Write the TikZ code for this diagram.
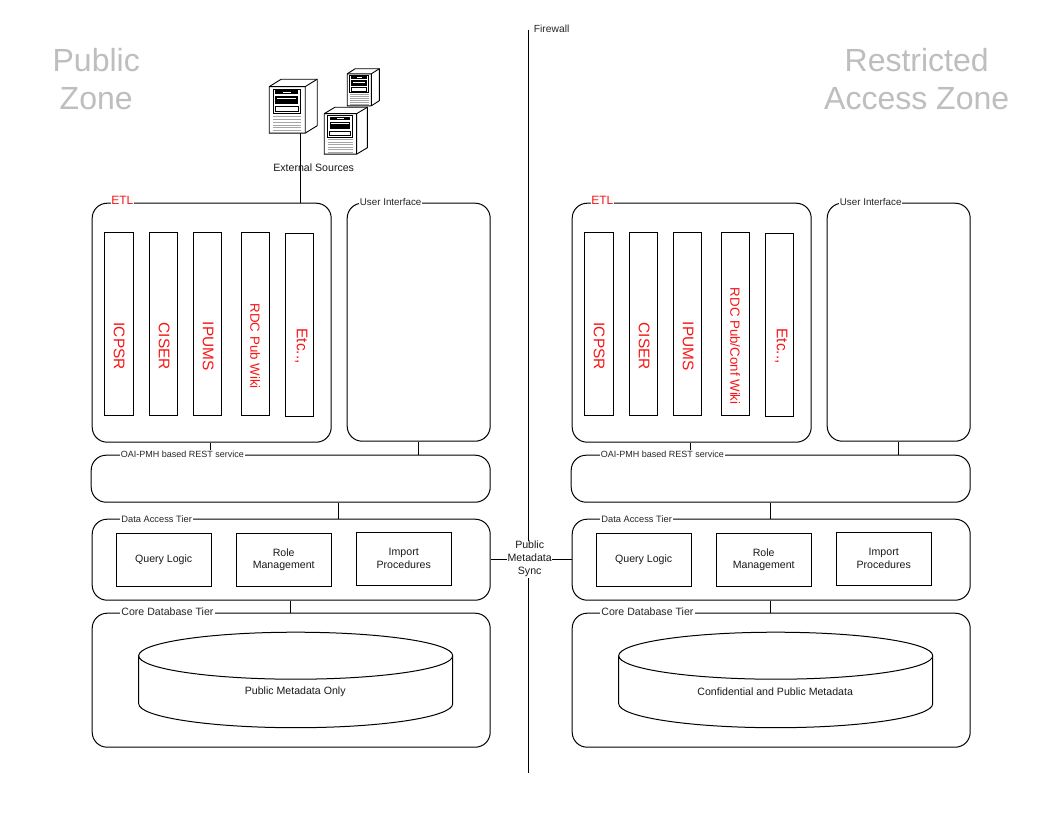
\documentclass[tikz,border=0pt]{standalone}
\usepackage{fontspec}
\setmainfont{Liberation Sans}
\definecolor{zonegray}{RGB}{190,190,190}
\definecolor{etlred}{RGB}{250,20,20}
\tikzset{
  x=1pt,y=-1pt,
  tier/.style={draw=black,line width=1pt,rounded corners=15pt,fill=white},
  col/.style={draw=black,line width=1pt,fill=white},
  lnk/.style={draw=black,line width=1pt},
  boxlab/.style={inner sep=1pt,fill=white,font=\fontsize{9}{10}\selectfont,text=black!85},
  etllab/.style={inner sep=0.5pt,fill=white,font=\fontsize{12}{13}\selectfont,text=etlred},
  inner/.style={font=\fontsize{10.6}{12.8}\selectfont,align=center,text=black!90},
  colbig/.style={rotate=-90,font=\fontsize{15.4}{17}\selectfont,text=etlred},
  colsmall/.style={rotate=-90,font=\fontsize{13.3}{15}\selectfont,text=etlred},
  zone/.style={font=\fontsize{32}{38}\selectfont,text=zonegray,align=center}
}
\newcommand{\tierbox}[5]{\node[tier,minimum width=#4pt-#2pt,minimum height=#5pt-#3pt,anchor=north west,inner sep=0pt] (#1) at (#2,#3) {};}
\newcommand{\colbox}[5]{\node[col,minimum width=#4pt-#2pt,minimum height=#5pt-#3pt,anchor=north west,inner sep=0pt] (#1) at (#2,#3) {};}
\newcommand{\srv}[4]{%
 \begin{scope}[shift={(#1,#2)},xscale=#3,yscale=#4]
  \draw[line width=0.9pt,fill=white] (0,8) -- (12,0) -- (48,0) -- (48,50) -- (36,58) -- (0,58) -- cycle;
  \draw[line width=0.9pt] (0,8) -- (36,8) -- (48,0) (36,8) -- (36,58);
  \draw[line width=0.8pt,fill=white] (4,10.5) rectangle (31,37);
  \fill (6,12) rectangle (29,16);
  \fill[white] (14,13.5) rectangle (22,14.5);
  \fill (6,18) rectangle (29,27);
  \fill[white] (8,20) rectangle (27,21);
  \draw[line width=0.6pt] (6,29.5) rectangle (29,35);
  \foreach \yy in {40,43,46,49,52,55}{\draw[line width=0.3pt,black!35] (4,\yy) -- (32,\yy);}
 \end{scope}}
\begin{document}
\begin{tikzpicture}
\useasboundingbox (0.3,0.3) rectangle (1056.3,816.3);
\fill[white] (0.3,0.3) rectangle (1056.3,816.3);
% firewall
\coordinate (fwtop) at (529,30);
\coordinate (fwbot) at (529,773);
\draw[lnk] (fwtop) -- (fwbot);
\node[anchor=west,inner sep=0pt,font=\fontsize{10.3}{12}\selectfont,text=black!85] (fwlab) at (534,29.5) {Firewall};
% zones
\node[zone] (pubzone) at (96.5,79.5) {Public\\Zone};
\node[zone] (reszone) at (917,79.5) {Restricted\\Access Zone};
% servers
\srv{269.5}{79.5}{1.0}{0.93}
\srv{347.5}{69}{0.67}{0.64}
\srv{324.5}{107.5}{0.9}{0.81}
\coordinate (srvbase) at (301,133);
% tiers
\tierbox{etlL}{92}{203}{331}{442}
\tierbox{uiL}{347}{203}{490}{441}
\tierbox{oaiL}{91}{455}{490}{502}
\tierbox{dataL}{92}{519}{490}{600}
\tierbox{coreL}{92}{613}{490}{747}
\tierbox{etlR}{572}{203}{811}{442}
\tierbox{uiR}{827}{203}{970}{441}
\tierbox{oaiR}{571}{455}{970}{502}
\tierbox{dataR}{572}{519}{970}{600}
\tierbox{coreR}{572}{613}{970}{747}
% connectors
\coordinate (l1) at (301,203);
\draw[lnk] (srvbase) -- (l1);
\node[inner sep=0pt,font=\fontsize{10.6}{12}\selectfont,text=black!90] (ext) at (314,168.5) {External Sources};
\draw[lnk] (etlL.south -| 211,0) -- (oaiL.north -| 211,0);
\draw[lnk] (uiL.south -| 419,0) -- (oaiL.north -| 419,0);
\draw[lnk] (oaiL.south -| 339,0) -- (dataL.north -| 339,0);
\draw[lnk] (dataL.south -| 291,0) -- (coreL.north -| 291,0);
\draw[lnk] (etlR.south -| 691,0) -- (oaiR.north -| 691,0);
\draw[lnk] (uiR.south -| 899,0) -- (oaiR.north -| 899,0);
\draw[lnk] (oaiR.south -| 771,0) -- (dataR.north -| 771,0);
\draw[lnk] (dataR.south -| 771,0) -- (coreR.north -| 771,0);
\draw[lnk] (dataL.east |- 0,560) -- (dataR.west |- 0,560);
\node[inner sep=0.5pt,fill=white,align=center,font=\fontsize{10.6}{13}\selectfont,text=black!90] (sync) at (530,559.5) {Public\\Metadata\\Sync};
% box labels
\node[etllab,anchor=west] (etlLlab) at (111,201) {ETL};
\node[boxlab,anchor=west,font=\fontsize{9.8}{11}\selectfont] at (359,202) {User Interface};
\node[boxlab,anchor=west] at (120,454.5) {OAI-PMH based REST service};
\node[boxlab,anchor=west,font=\fontsize{9.3}{11}\selectfont] at (120.5,519) {Data Access Tier};
\node[boxlab,anchor=west,font=\fontsize{10.6}{12}\selectfont] at (120.5,612.5) {Core Database Tier};
\node[etllab,anchor=west] (etlRlab) at (591,201) {ETL};
\node[boxlab,anchor=west,font=\fontsize{9.8}{11}\selectfont] at (839,202) {User Interface};
\node[boxlab,anchor=west] at (600,454.5) {OAI-PMH based REST service};
\node[boxlab,anchor=west,font=\fontsize{9.3}{11}\selectfont] at (600.5,519) {Data Access Tier};
\node[boxlab,anchor=west,font=\fontsize{10.6}{12}\selectfont] at (600.5,612.5) {Core Database Tier};
% columns left
\colbox{a1}{104}{232}{133}{415}
\colbox{a2}{149}{232}{177}{415}
\colbox{a3}{193}{232}{221}{415}
\colbox{a4}{241}{232}{269}{415}
\colbox{a5}{285}{233}{313}{416}
\node[colbig] at (119.5,346.5) {ICPSR};
\node[colbig] at (164.5,346.5) {CISER};
\node[colbig] at (208.5,346.5) {IPUMS};
\node[colsmall] at (255.5,346.5) {RDC Pub Wiki};
\node[colbig] at (301.5,346.5) {Etc..,};
% columns right
\colbox{b1}{584}{232}{613}{415}
\colbox{b2}{629}{232}{657}{415}
\colbox{b3}{673}{232}{701}{415}
\colbox{b4}{721}{232}{749}{415}
\colbox{b5}{765}{233}{793}{416}
\node[colbig] at (599.5,346.5) {ICPSR};
\node[colbig] at (644.5,346.5) {CISER};
\node[colbig] at (688.5,346.5) {IPUMS};
\node[colsmall] at (735.5,346.5) {RDC Pub/Conf Wiki};
\node[colbig] at (781.5,346.5) {Etc..,};
% data boxes
\colbox{q1}{116}{533}{211}{586}
\colbox{q2}{236}{533}{331}{586}
\colbox{q3}{356}{532}{451}{585}
\node[inner] at (q1) {Query Logic};
\node[inner] at (q2) {Role\\Management};
\node[inner] at (q3) {Import\\Procedures};
\colbox{r1}{596}{533}{691}{586}
\colbox{r2}{716}{533}{811}{586}
\colbox{r3}{836}{532}{931}{585}
\node[inner] at (r1) {Query Logic};
\node[inner] at (r2) {Role\\Management};
\node[inner] at (r3) {Import\\Procedures};
% cylinders
\draw[lnk,fill=white] (139,656) -- (139,704) arc[start angle=180,end angle=360,x radius=157,y radius=-24] -- (453,656);
\draw[lnk,fill=white] (296,656) ellipse [x radius=157,y radius=23.5];
\node[inner] (dbL) at (295.5,692.5) {Public Metadata Only};
\draw[lnk,fill=white] (619,656) -- (619,704) arc[start angle=180,end angle=360,x radius=157,y radius=-24] -- (933,656);
\draw[lnk,fill=white] (776,656) ellipse [x radius=157,y radius=23.5];
\node[inner] (dbR) at (775.5,692) {Confidential and Public Metadata};
\end{tikzpicture}
\end{document}
